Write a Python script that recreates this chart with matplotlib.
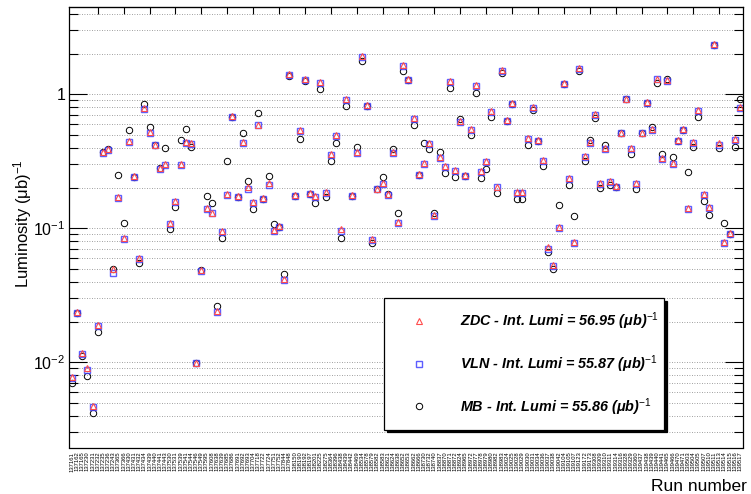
import matplotlib
matplotlib.use("Agg")
import matplotlib.pyplot as plt
import numpy as np
from matplotlib.ticker import FixedLocator, FixedFormatter, NullFormatter
from matplotlib.font_manager import FontProperties

plt.rcParams['font.family'] = ['Liberation Sans', 'DejaVu Sans']
plt.rcParams['mathtext.fontset'] = 'custom'
plt.rcParams['mathtext.rm'] = 'Liberation Sans'
plt.rcParams['mathtext.it'] = 'Liberation Sans:italic'
plt.rcParams['mathtext.bf'] = 'Liberation Sans:bold'

# run numbers (x axis labels)
runs = [
    137161, 137162, 137165, 137230, 137231, 137232, 137235, 137236, 137243, 137365,
    137366, 137430, 137431, 137432, 137434, 137439, 137440, 137441, 137443, 137530,
    137531, 137539, 137541, 137544, 137546, 137549, 137595, 137608, 137638, 137639,
    137685, 137686, 137691, 137692, 137693, 137704, 137718, 137722, 137724, 137751,
    137752, 137844, 137848, 138150, 138190, 138192, 138197, 138201, 138225, 138275,
    138364, 138396, 138438, 138439, 138442, 138469, 138534, 138578, 138579, 138582,
    138583, 138621, 138624, 138638, 138652, 138653, 138662, 138666, 138730, 138732,
    138740, 138837, 138870, 138871, 138872, 138924, 138965, 138972, 138977, 138978,
    138979, 138980, 138982, 138983, 139024, 139025, 139028, 139029, 139030, 139031,
    139034, 139036, 139037, 139038, 139042, 139104, 139105, 139107, 139123, 139172,
    139173, 139308, 139309, 139310, 139311, 139314, 139316, 139328, 139329, 139360,
    139437, 139438, 139439, 139440, 139441, 139465, 139466, 139470, 139471, 139503,
    139504, 139505, 139507, 139510, 139511, 139513, 139514, 139515, 139516, 139517,
]

# luminosity per run, (ub)^-1
lumi_vln = [
    0.0076, 0.0234, 0.0115, 0.0088, 0.0046, 0.0187, 0.363, 0.384, 0.046, 0.168,
    0.083, 0.44, 0.243, 0.0587, 0.773, 0.51, 0.416, 0.275, 0.298, 0.108,
    0.157, 0.298, 0.435, 0.426, 0.0098, 0.048, 0.139, 0.129, 0.0239, 0.093,
    0.178, 0.68, 0.172, 0.435, 0.198, 0.154, 0.587, 0.165, 0.212, 0.096,
    0.102, 0.041, 1.40, 0.174, 0.535, 1.28, 0.18, 0.172, 1.22, 0.184,
    0.354, 0.489, 0.096, 0.907, 0.174, 0.367, 1.89, 0.818, 0.082, 0.195,
    0.214, 0.178, 0.367, 0.109, 1.64, 1.28, 0.658, 0.249, 0.302, 0.426,
    0.124, 0.335, 0.288, 1.235, 0.269, 0.62, 0.246, 0.542, 1.15, 0.263,
    0.313, 0.738, 0.202, 1.50, 0.63, 0.847, 0.182, 0.182, 0.462, 0.79,
    0.45, 0.316, 0.070, 0.052, 0.10, 1.19, 0.232, 0.078, 1.54, 0.342,
    0.43, 0.697, 0.214, 0.393, 0.222, 0.204, 0.51, 0.918, 0.389, 0.214,
    0.51, 0.866, 0.542, 1.29, 0.331, 1.25, 0.302, 0.446, 0.542, 0.14,
    0.435, 0.755, 0.178, 0.142, 2.32, 0.42, 0.078, 0.09, 0.456, 0.79,
]

lumi_zdc = [
    0.0077, 0.0236, 0.0117, 0.0090, 0.0047, 0.0190, 0.368, 0.39, 0.050, 0.170,
    0.085, 0.45, 0.247, 0.060, 0.785, 0.52, 0.42, 0.28, 0.302, 0.110,
    0.160, 0.302, 0.44, 0.43, 0.0099, 0.049, 0.141, 0.131, 0.0243, 0.095,
    0.181, 0.69, 0.175, 0.44, 0.202, 0.157, 0.595, 0.168, 0.216, 0.097,
    0.104, 0.042, 1.42, 0.177, 0.543, 1.30, 0.183, 0.175, 1.24, 0.187,
    0.36, 0.497, 0.098, 0.92, 0.177, 0.373, 1.92, 0.83, 0.083, 0.198,
    0.217, 0.181, 0.373, 0.111, 1.66, 1.30, 0.668, 0.253, 0.307, 0.433,
    0.126, 0.34, 0.293, 1.25, 0.273, 0.63, 0.25, 0.55, 1.17, 0.267,
    0.318, 0.75, 0.205, 1.52, 0.64, 0.86, 0.185, 0.185, 0.47, 0.80,
    0.457, 0.321, 0.072, 0.053, 0.102, 1.21, 0.236, 0.079, 1.56, 0.348,
    0.437, 0.708, 0.217, 0.40, 0.226, 0.207, 0.518, 0.93, 0.395, 0.217,
    0.518, 0.88, 0.55, 1.31, 0.336, 1.27, 0.307, 0.453, 0.55, 0.142,
    0.44, 0.767, 0.181, 0.144, 2.36, 0.43, 0.079, 0.092, 0.463, 0.80,
]

lumi_mb = [
    0.0070, 0.0234, 0.0112, 0.0079, 0.0042, 0.0168, 0.37, 0.39, 0.050, 0.251,
    0.110, 0.54, 0.243, 0.055, 0.85, 0.567, 0.416, 0.28, 0.397, 0.098,
    0.143, 0.456, 0.554, 0.406, 0.0098, 0.049, 0.174, 0.155, 0.0263, 0.084,
    0.319, 0.68, 0.172, 0.517, 0.226, 0.14, 0.73, 0.165, 0.246, 0.108,
    0.102, 0.0456, 1.38, 0.174, 0.466, 1.26, 0.18, 0.154, 1.10, 0.17,
    0.316, 0.435, 0.084, 0.818, 0.174, 0.407, 1.76, 0.818, 0.077, 0.195,
    0.240, 0.18, 0.39, 0.129, 1.48, 1.28, 0.593, 0.249, 0.435, 0.393,
    0.129, 0.371, 0.257, 1.11, 0.24, 0.65, 0.246, 0.494, 1.03, 0.238,
    0.279, 0.673, 0.184, 1.44, 0.63, 0.847, 0.166, 0.166, 0.421, 0.77,
    0.45, 0.29, 0.066, 0.050, 0.15, 1.19, 0.209, 0.124, 1.50, 0.316,
    0.456, 0.67, 0.20, 0.416, 0.21, 0.204, 0.51, 0.93, 0.359, 0.195,
    0.51, 0.866, 0.567, 1.21, 0.359, 1.29, 0.342, 0.446, 0.542, 0.263,
    0.402, 0.68, 0.161, 0.126, 2.32, 0.40, 0.109, 0.09, 0.406, 0.92,
]

labels = [
    'ZDC - Int. Lumi = 56.95 (μb)$^{-1}$',
    'VLN - Int. Lumi = 55.87 (μb)$^{-1}$',
    'MB - Int. Lumi = 55.86 (μb)$^{-1}$',
]

W, H = 751, 494
fig = plt.figure(figsize=(W / 100, H / 100), dpi=100)
ax = fig.add_axes([69.3 / W, 1 - 447.5 / H, 673.2 / W, 440.2 / H])

x = np.arange(len(runs))
mb, = ax.plot(x, lumi_mb, 'o', ls='none', mfc='none', mec='black',
              ms=4.6, mew=0.7)
vln, = ax.plot(x, lumi_vln, 's', ls='none', mfc='none',
               mec=(0.25, 0.25, 1.0, 0.85), ms=4.3, mew=1.0)
zdc, = ax.plot(x, lumi_zdc, '^', ls='none', mfc='none',
               mec=(1.0, 0.3, 0.3), ms=3.8, mew=0.8)

ax.set_yscale('log')
ax.set_ylim(0.00231, 4.46)
ax.set_xlim(-0.5, len(runs) - 0.5)

# y axis: ROOT-like ticks and labels
ax.yaxis.set_major_locator(FixedLocator([0.01, 0.1, 1]))
ax.yaxis.set_major_formatter(FixedFormatter(['$10^{-2}$', '$10^{-1}$', '1']))
minors = [m * 10.0 ** e for e in range(-3, 1) for m in range(2, 10)]
ax.yaxis.set_minor_locator(FixedLocator(minors))
ax.yaxis.set_minor_formatter(NullFormatter())
ax.tick_params(axis='y', which='major', direction='in', length=13,
               width=0.8, right=True, labelsize=11.5, pad=3)
ax.tick_params(axis='y', which='minor', direction='in', length=6.5,
               width=0.8, right=True)

# x axis: every run labelled, tick marks every 5 bins
ax.set_xticks(x)
ax.set_xticklabels([str(r) for r in runs], rotation=90, fontsize=4.2)
ax.set_xticks(np.arange(5, len(runs), 5), minor=True)
ax.tick_params(axis='x', which='major', length=0, pad=3)
ax.tick_params(axis='x', which='minor', direction='in', length=10, width=0.8)
top = ax.secondary_xaxis('top')
top.set_xticks(np.arange(5, len(runs), 5))
top.set_xticklabels([])
top.tick_params(direction='in', length=5, width=0.8)

ax.grid(which='both', axis='y', ls=(0, (1, 2)), color='0.5', lw=0.6)
ax.grid(which='minor', axis='x', ls=(0, (1, 2)), color='0.5', lw=0.6)
ax.xaxis.grid(False, which='major')
ax.set_axisbelow(True)
for s in ax.spines.values():
    s.set_linewidth(0.9)

fig.text(23 / W, 1 - 224 / H, 'Luminosity (μb)$^{-1}$', rotation=90,
         ha='center', va='center', fontsize=12)
fig.text(747 / W, 1 - 486 / H, 'Run number', ha='right', va='center',
         fontsize=12.5)

leg_font = FontProperties(family='Liberation Sans', weight='bold',
                          style='italic', size=10.4)
ax.legend([zdc, vln, mb], labels, loc='upper left',
          bbox_to_anchor=(0.4675, 0.0, 0.416, 0.339), mode='expand',
          borderaxespad=0, frameon=True, fancybox=False, framealpha=1,
          edgecolor='black', shadow={'color': 'black', 'alpha': 1},
          prop=leg_font, handlelength=3.2, handletextpad=1.25,
          borderpad=0.83, labelspacing=1.47, numpoints=1)
ax.get_legend().get_frame().set_linewidth(0.9)

fig.savefig('out.png', dpi=100)
